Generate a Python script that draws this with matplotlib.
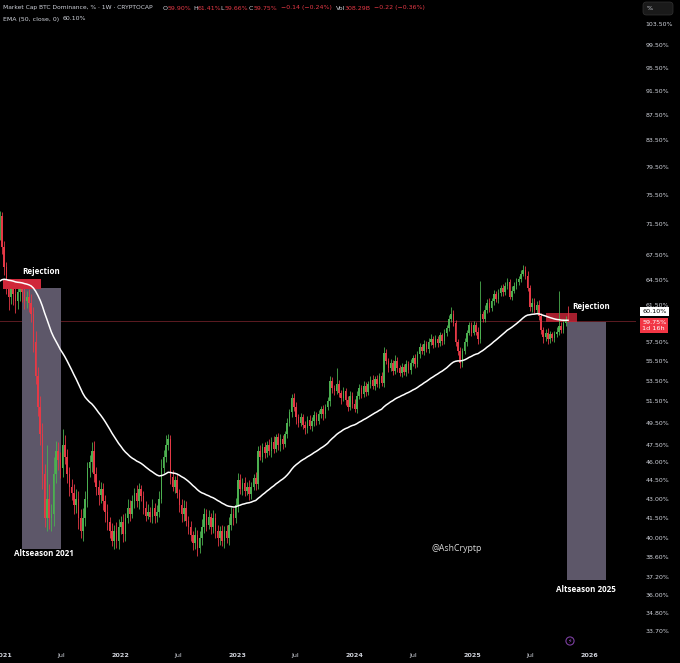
import datetime as dt
import matplotlib
matplotlib.use('Agg')
import matplotlib.pyplot as plt
import matplotlib.dates as mdates
from matplotlib.patches import FancyBboxPatch
from matplotlib.ticker import FixedLocator, FixedFormatter, NullLocator
from matplotlib.transforms import blended_transform_factory

# ---- data (weekly BTC dominance, %) ----
first_week = dt.date(2020, 12, 21)
first_open = 70.0
ema_len = 50
ema_seed = 64.0   # EMA value just before the first visible candle

closes_2021 = [72.5, 68.5, 66.0, 63.5, 62.5, 63.5, 62.8, 62.0, 63.0, 63.5,
               63.0, 62.0, 62.5, 61.8, 60.5, 57.5, 54.0, 51.0, 48.5, 45.0,
               41.5, 43.0, 41.5, 41.8, 45.0, 47.0, 46.2, 45.5, 47.5, 46.5,
               45.0, 44.0, 43.5, 42.5, 43.0, 41.5, 40.5, 41.5, 43.0, 45.5,
               46.0, 47.0, 45.0, 44.0, 43.3, 43.8, 42.8, 42.0, 41.2, 40.5,
               39.8, 40.5, 39.8, 40.8]
closes_2022 = [41.2, 40.3, 41.5, 42.3, 41.8, 42.8, 43.5, 42.8, 43.8, 43.2,
               42.3, 41.7, 42.0, 41.6, 42.3, 41.7, 42.0, 43.0, 45.5, 46.5,
               47.5, 48.0, 44.8, 44.0, 44.5, 43.5, 42.5, 41.8, 42.3, 41.3,
               40.8, 40.2, 39.6, 40.2, 39.3, 40.0, 40.8, 41.8, 41.0, 41.6,
               40.8, 41.5, 40.5, 40.0, 40.5, 39.8, 40.5, 40.0, 41.0, 41.8,
               41.5, 42.5]
closes_2023 = [44.5, 43.8, 44.3, 43.6, 44.0, 43.4, 44.0, 44.7, 44.2, 47.0,
               46.5, 47.3, 46.8, 47.5, 47.0, 47.8, 47.2, 48.2, 47.5, 48.0,
               47.6, 48.5, 49.5, 50.5, 51.8, 51.0, 50.0, 49.5, 50.0, 49.3,
               49.0, 49.8, 49.2, 49.7, 50.2, 49.7, 50.3, 50.8, 50.3, 51.0,
               51.5, 53.5, 52.8, 52.5, 53.2, 52.3, 51.8, 52.5, 51.6, 51.0,
               52.0, 51.3]
closes_2024 = [50.8, 52.0, 52.8, 52.2, 53.0, 52.4, 53.2, 53.6, 53.0, 53.7,
               53.2, 54.0, 53.3, 56.3, 55.5, 54.8, 55.3, 54.5, 55.5, 54.8,
               54.3, 54.9, 54.4, 55.2, 54.6, 55.3, 55.8, 55.2, 56.2, 57.0,
               56.5, 57.3, 56.7, 57.5, 57.8, 57.2, 57.8, 57.4, 58.2, 57.6,
               58.5, 59.0, 60.0, 60.5, 59.5, 57.5, 56.5, 55.3, 56.5, 57.5,
               58.5, 59.3]
closes_2025 = [58.5, 59.3, 58.6, 57.8, 60.5, 60.0, 61.0, 61.8, 61.2, 62.0,
               62.8, 62.2, 62.9, 63.5, 63.0, 63.8, 64.2, 62.5, 63.2, 63.8,
               64.2, 64.6, 65.2, 65.7, 65.0, 63.5, 61.3, 61.8, 61.0, 61.6,
               60.3, 58.8, 58.0, 58.5, 57.8, 58.3, 57.9, 58.3, 58.6, 59.2,
               58.8, 59.5, 59.90, 59.75]

# wick lengths above max(open, close) and below min(open, close), in % points
wick_up_2021 = [0.8, 0.6, 0.8, 0.7, 0.9, 0.8, 0.7, 0.9, 0.8, 0.7,
                1.0, 0.8, 0.7, 0.9, 1.0, 0.8, 1.2, 0.9, 1.0, 1.0,
                0.9, 4.5, 1.2, 0.8, 1.5, 0.9, 0.8, 0.7, 1.4, 0.9,
                0.7, 0.6, 0.6, 0.7, 0.8, 0.6, 0.7, 0.8, 0.6, 0.5,
                0.6, 0.8, 0.9, 0.6, 0.5, 0.6, 0.5, 0.5, 0.6, 0.4,
                0.6, 0.5, 0.7, 0.6]
wick_dn_2021 = [0.6, 0.8, 0.9, 0.7, 1.5, 0.8, 1.2, 1.4, 0.9, 1.0,
                1.1, 0.9, 0.8, 1.0, 0.9, 1.1, 0.8, 0.9, 1.0, 1.2,
                0.7, 1.0, 0.8, 1.0, 0.9, 0.7, 0.8, 0.8, 0.7, 0.6,
                0.7, 0.8, 0.6, 0.7, 0.6, 0.8, 0.5, 0.7, 0.6, 0.6,
                0.7, 0.8, 0.6, 0.7, 0.8, 0.6, 0.7, 0.8, 0.6, 0.5,
                0.4, 0.6, 0.5, 0.6]
wick_up_2022 = [0.5, 0.6, 0.4, 0.7, 0.6, 0.5, 0.4, 0.6, 0.5, 0.3,
                0.4, 0.5, 0.6, 0.4, 0.7, 0.4, 0.5, 0.6, 0.8, 0.6,
                0.9, 0.5, 0.4, 0.6, 0.4, 0.5, 0.3, 0.5, 0.6, 0.5,
                0.4, 0.5, 0.3, 0.6, 0.4, 0.5, 0.6, 0.5, 0.4, 0.5,
                0.3, 0.6, 0.4, 0.5, 0.4, 0.5, 0.4, 0.5, 0.6, 0.6,
                0.5, 0.6]
wick_dn_2022 = [0.5, 0.6, 0.5, 0.4, 0.5, 0.3, 0.5, 0.4, 0.6, 0.4,
                0.5, 0.4, 0.3, 0.4, 0.5, 0.6, 0.5, 0.4, 0.3, 0.4,
                0.5, 0.4, 0.6, 0.4, 0.5, 0.4, 0.5, 0.6, 0.5, 0.4,
                0.5, 0.4, 0.5, 0.4, 0.6, 0.4, 0.5, 0.4, 0.5, 0.3,
                0.5, 0.4, 0.5, 0.6, 0.5, 0.4, 0.5, 0.4, 0.5, 0.4,
                0.5, 0.4]
wick_up_2023 = [0.6, 0.5, 0.4, 0.5, 0.4, 0.5, 0.4, 0.3, 0.5, 0.4,
                0.5, 0.4, 0.5, 0.4, 0.5, 0.4, 0.5, 0.3, 0.4, 0.5,
                0.4, 0.3, 0.4, 0.3, 0.4, 0.5, 0.4, 0.3, 0.4, 0.3,
                0.4, 0.3, 0.4, 0.3, 0.4, 0.3, 0.4, 0.3, 0.4, 0.3,
                0.4, 0.5, 0.4, 0.3, 1.6, 0.4, 0.3, 0.4, 0.3, 0.4,
                0.5, 0.4]
wick_dn_2023 = [0.5, 0.4, 0.5, 0.4, 0.3, 0.5, 0.4, 0.3, 0.5, 0.4,
                0.3, 0.5, 0.4, 0.3, 0.4, 0.5, 0.4, 0.3, 0.4, 0.5,
                0.4, 0.3, 0.4, 0.3, 0.5, 0.4, 0.6, 0.4, 0.3, 0.4,
                0.5, 0.4, 0.3, 0.4, 0.5, 0.4, 0.3, 0.4, 0.5, 0.4,
                0.3, 0.4, 0.5, 0.4, 0.3, 0.4, 0.5, 0.3, 0.4, 0.4,
                0.3, 0.4]
wick_up_2024 = [0.4, 0.5, 0.4, 0.3, 0.5, 0.4, 0.3, 0.4, 0.5, 0.3,
                0.4, 0.3, 0.4, 0.6, 0.4, 0.3, 0.4, 0.3, 0.6, 0.4,
                0.3, 0.4, 0.3, 0.4, 0.3, 0.4, 0.3, 0.4, 0.3, 0.4,
                0.3, 0.4, 0.3, 0.4, 0.5, 0.3, 0.4, 0.3, 0.4, 0.3,
                0.4, 0.3, 0.4, 0.8, 0.5, 0.4, 0.3, 0.4, 0.3, 0.4,
                0.3, 0.4]
wick_dn_2024 = [0.3, 0.4, 0.3, 0.4, 0.3, 0.4, 0.3, 0.4, 0.3, 0.4,
                0.3, 0.4, 0.3, 0.4, 0.3, 0.4, 0.3, 0.4, 0.3, 0.4,
                0.3, 0.4, 0.3, 0.4, 0.3, 0.4, 0.3, 0.4, 0.3, 0.4,
                0.3, 0.4, 0.3, 0.4, 0.3, 0.4, 0.3, 0.4, 0.3, 0.4,
                0.3, 0.4, 0.3, 0.4, 0.3, 0.4, 0.4, 0.5, 0.4, 0.3,
                0.4, 0.3]
wick_up_2025 = [0.4, 0.5, 0.4, 0.5, 3.8, 0.4, 0.5, 0.4, 0.5, 0.4,
                0.5, 0.4, 0.5, 0.4, 0.5, 0.4, 0.5, 0.4, 0.5, 0.4,
                0.5, 0.4, 0.5, 0.6, 0.4, 0.5, 0.4, 0.5, 0.6, 0.4,
                0.5, 0.4, 0.3, 0.4, 0.5, 0.4, 0.3, 0.4, 0.5, 4.0,
                0.4, 0.5, 0.4, 1.51]
wick_dn_2025 = [0.4, 0.3, 0.4, 0.5, 0.4, 0.3, 0.4, 0.3, 0.4, 0.3,
                0.4, 0.3, 0.4, 0.3, 0.4, 0.3, 0.4, 0.3, 0.4, 0.3,
                0.4, 0.3, 0.4, 0.3, 0.4, 0.3, 0.4, 0.5, 0.4, 0.3,
                0.4, 0.5, 0.6, 0.4, 0.5, 0.4, 0.3, 0.4, 0.3, 0.4,
                0.3, 0.4, 0.3, 0.09]

y_ticks = [103.5, 99.5, 95.5, 91.5, 87.5, 83.5, 79.5, 75.5, 71.5, 67.5,
           64.5, 61.5, 57.5, 55.5, 53.5, 51.5, 49.5, 47.5, 46.0, 44.5,
           43.0, 41.5, 40.0, 38.6, 37.2, 36.0, 34.8, 33.7]
x_ticks = ['2021-01-01', '2021-07-01', '2022-01-01', '2022-07-01', '2023-01-01',
           '2023-07-01', '2024-01-01', '2024-07-01', '2025-01-01', '2025-07-01',
           '2026-01-01']
x_labels = ['2021', 'Jul', '2022', 'Jul', '2023', 'Jul', '2024', 'Jul', '2025', 'Jul', '2026']

last_price = 59.75
ema_last = 60.10

closes = closes_2021 + closes_2022 + closes_2023 + closes_2024 + closes_2025
wick_up = wick_up_2021 + wick_up_2022 + wick_up_2023 + wick_up_2024 + wick_up_2025
wick_dn = wick_dn_2021 + wick_dn_2022 + wick_dn_2023 + wick_dn_2024 + wick_dn_2025
opens = [first_open] + closes[:-1]
highs = [max(o, c) + u for o, c, u in zip(opens, closes, wick_up)]
lows = [min(o, c) - d for o, c, d in zip(opens, closes, wick_dn)]
dates = [first_week + dt.timedelta(weeks=i) for i in range(len(closes))]
xs = mdates.date2num(dates)

alpha = 2 / (ema_len + 1)
ema = []
prev = ema_seed
for c in closes:
    prev = prev + alpha * (c - prev)
    ema.append(prev)

GREEN = '#4caf50'
RED = '#e53946'
TXT = '#d1d4dc'
W, H = 680, 663


def d(s):
    return mdates.date2num(dt.date.fromisoformat(s))


def px(x, y):
    return x / W, 1 - y / H


fig = plt.figure(figsize=(6.8, 6.63), dpi=100, facecolor='black')
ax = fig.add_axes([0, 16 / H, 636 / W, 647 / H])
ax.set_facecolor('black')
ax.set_yscale('log')
ax.set_ylim(32.70, 108.2)
ax.set_xlim(d('2020-12-22'), d('2026-05-27'))
for s in ax.spines.values():
    s.set_visible(False)

# annotation boxes
ax.fill_between([d('2021-02-28'), d('2021-07-01')], 39.2, 63.5, color='#5d5769', lw=0, zorder=1)
ax.fill_between([d('2025-10-25'), d('2026-02-23')], 37.0, 59.6, color='#5d5769', lw=0, zorder=1)
ax.fill_between([d('2021-01-01'), d('2021-04-29')], 63.4, 64.6, color='#d0283a', lw=0, zorder=4)
ax.fill_between([d('2025-08-20'), d('2025-11-25')], 59.6, 60.6, color='#d0283a', alpha=0.8, lw=0, zorder=1.5)

ax.axhline(last_price, color='#5c1b22', lw=0.7, zorder=0.5)

# candles
colors = [GREEN if c >= o else RED for o, c in zip(opens, closes)]
ax.vlines(xs, lows, highs, colors=colors, lw=0.6, zorder=2)
bottoms = [min(o, c) for o, c in zip(opens, closes)]
heights = [max(abs(c - o), 0.05) for o, c in zip(opens, closes)]
ax.bar(xs, heights, bottom=bottoms, width=4.8, color=colors, lw=0, zorder=2.2)

ax.plot(xs, ema, color='white', lw=1.1, zorder=5)

# axis ticks
ax.yaxis.tick_right()
ax.yaxis.set_major_locator(FixedLocator(y_ticks))
ax.yaxis.set_major_formatter(FixedFormatter([f'{v:.2f}%' for v in y_ticks]))
ax.yaxis.set_minor_locator(NullLocator())
ax.tick_params(axis='y', length=0, pad=6.8, labelsize=4.5, labelcolor=TXT)
ax.xaxis.set_major_locator(FixedLocator([d(s) for s in x_ticks]))
ax.xaxis.set_major_formatter(FixedFormatter(x_labels))
ax.xaxis.set_minor_locator(NullLocator())
ax.tick_params(axis='x', length=0, pad=4, labelsize=4.6, labelcolor=TXT)
for lbl in ax.get_xticklabels():
    if lbl.get_text() != 'Jul':
        lbl.set_fontweight('bold')

# price tags on the scale
trans = blended_transform_factory(ax.transAxes, ax.transData)
ax.annotate(f'{ema_last:.2f}%', xy=(1.0, ema_last), xycoords=trans,
            xytext=(4.5, 4.6), textcoords='offset points', ha='left', va='center',
            fontsize=4.6, color='black', annotation_clip=False, zorder=10,
            bbox=dict(boxstyle='square,pad=0.3', fc='white', ec='none'))
ax.annotate(f'{last_price:.2f}%\n1d 16h', xy=(1.0, last_price), xycoords=trans,
            xytext=(4.5, -3.3), textcoords='offset points', ha='left', va='center',
            fontsize=4.6, color='white', annotation_clip=False, zorder=10, linespacing=1.2,
            bbox=dict(boxstyle='square,pad=0.3', fc='#f23645', ec='none'))

# chart notes
note = dict(color='white', fontsize=5.8, fontweight='bold', family='Open Sans',
            ha='center', va='center', zorder=8)
ax.text(d('2021-04-29'), 65.5, 'Rejection', **note)
ax.text(d('2021-05-09'), 38.9, 'Altseason 2021', **note)
ax.text(d('2026-01-07'), 61.4, 'Rejection', **note)
ax.text(d('2025-12-23'), 36.4, 'Altseason 2025', **note)
ax.text(d('2024-11-13'), 39.2, '@AshCryptp', color='#d8d8d8', fontsize=6.3,
        family='Open Sans', ha='center', va='center', zorder=8)

# header
hdr = dict(fontsize=4.5, va='center', ha='left')
fig.text(*px(3, 8), 'Market Cap BTC Dominance, % · 1W · CRYPTOCAP', color=TXT,
         fontsize=4.35, va='center', ha='left')
for label, value, x0 in [('O', '59.90%', 163), ('H', '61.41%', 193),
                         ('L', '59.66%', 220.5), ('C', '59.75%', 249)]:
    fig.text(*px(x0, 8), label, color=TXT, **hdr)
    fig.text(*px(x0 + 4.5, 8), value, color=RED, **hdr)
fig.text(*px(281, 8), '\u22120.14 (\u22120.24%)', color=RED, **hdr)
fig.text(*px(336, 8), 'Vol', color=TXT, **hdr)
fig.text(*px(345, 8), '308.29B', color=RED, **hdr)
fig.text(*px(374, 8), '\u22120.22 (\u22120.36%)', color=RED, **hdr)
fig.text(*px(3, 19), 'EMA (50, close, 0)', color=TXT, **hdr)
fig.text(*px(63, 19), f'{ema_last:.2f}%', color=TXT, **hdr)

fig.patches.append(FancyBboxPatch(px(643, 15), 30 / W, 13 / H,
                                  boxstyle='round,pad=0,rounding_size=0.005',
                                  fc='#1a1a1a', ec='#333333', lw=0.5,
                                  transform=fig.transFigure, figure=fig))
fig.text(*px(647, 8), '%', color=TXT, fontsize=4.5, va='center', ha='left')
fig.text(*px(570, 641), '\u26a1', color='#9c4dcc', fontsize=4.5, ha='center', va='center',
         bbox=dict(boxstyle='circle,pad=0.25', fc='none', ec='#7b3fa0', lw=0.8))

fig.savefig('out.png', dpi=100, facecolor='black')
